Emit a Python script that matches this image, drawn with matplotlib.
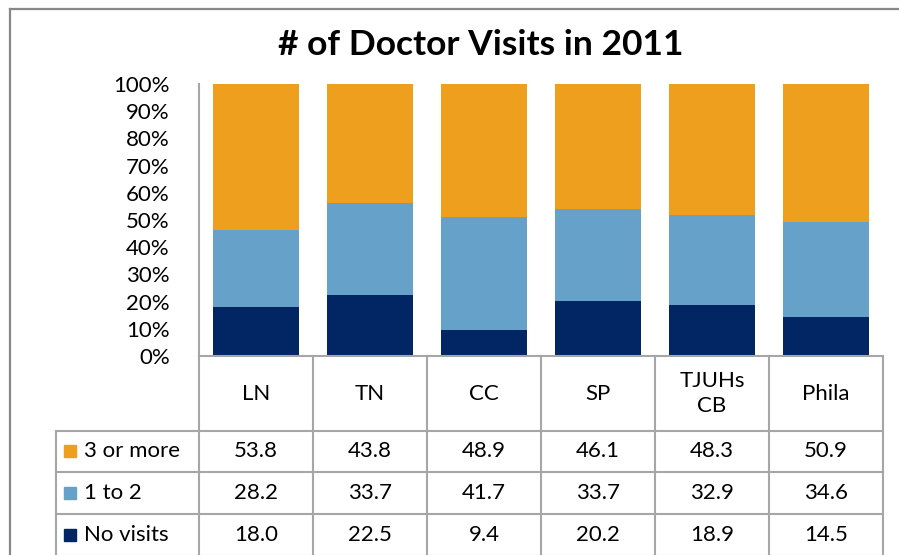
import numpy as np
import matplotlib.pyplot as plt
from matplotlib.lines import Line2D

plt.rcParams['font.family'] = ['Lato', 'DejaVu Sans']

regions = ["LN", "TN", "CC", "SP", "TJUHs\nCB", "Phila"]
series = ["3 or more", "1 to 2", "No visits"]
three_or_more = [53.8, 43.8, 48.9, 46.1, 48.3, 50.9]
one_to_two = [28.2, 33.7, 41.7, 33.7, 32.9, 34.6]
no_visits = [18.0, 22.5, 9.4, 20.2, 18.9, 14.5]
colors = ["#EE9F1E", "#65A1C9", "#012663"]

grid_c = "#a6a6a6"

fig = plt.figure(figsize=(8.99, 5.55), dpi=100)
ax = fig.add_axes([199 / 899, 199 / 555, 684 / 899, 272 / 555])

x = np.arange(len(regions))
nv = np.array(no_visits)
ot = np.array(one_to_two)
tm = np.array(three_or_more)
ax.bar(x, nv, width=0.75, color=colors[2], zorder=2)
ax.bar(x, ot, width=0.75, bottom=nv, color=colors[1], zorder=2)
ax.bar(x, tm, width=0.75, bottom=nv + ot, color=colors[0], zorder=2)

ax.set_xlim(-0.5, len(regions) - 0.5)
ax.set_ylim(0, 100)
ax.set_yticks(np.arange(0, 101, 10))
ax.set_yticklabels([f"{v}%" for v in range(0, 101, 10)], fontsize=16)
ax.tick_params(axis='y', length=0, pad=21)
ax.set_xticks([])
for s in ["top", "right"]:
    ax.spines[s].set_visible(False)
ax.spines["left"].set_color(grid_c)
ax.spines["bottom"].set_color(grid_c)
ax.spines["left"].set_linewidth(1.5)
ax.spines["bottom"].set_linewidth(1.5)

# data table below the bars (y in percent units of the axis)
row_edges = [0, -27.6, -42.6, -58.1, -73.5]
label_left = -1.754
right = len(regions) - 0.5
kw = dict(color=grid_c, lw=1.5, clip_on=False, zorder=3)
for b in np.arange(len(regions) + 1) - 0.5:
    ax.plot([b, b], [row_edges[0], row_edges[-1]], **kw)
ax.plot([label_left, label_left], [row_edges[1], row_edges[-1]], **kw)
for e in row_edges[1:]:
    ax.plot([label_left, right], [e, e], **kw)

hdr_y = (row_edges[0] + row_edges[1]) / 2
for i, r in enumerate(regions):
    ax.text(i, hdr_y, r, ha='center', va='center', fontsize=16,
            linespacing=1.3, clip_on=False)

table_rows = [three_or_more, one_to_two, no_visits]
for j, (name, vals) in enumerate(zip(series, table_rows)):
    yc = (row_edges[j + 1] + row_edges[j + 2]) / 2
    ax.plot(label_left + 0.125, yc, marker='s', ms=9, color=colors[j],
            clip_on=False, zorder=3)
    ax.text(label_left + 0.245, yc, name, ha='left', va='center',
            fontsize=16, clip_on=False)
    for i, v in enumerate(vals):
        ax.text(i, yc, f"{v:.1f}", ha='center', va='center',
                fontsize=16, clip_on=False)

fig.text(481 / 899, 1 - 45 / 555, "# of Doctor Visits in 2011",
         ha='center', va='center', fontsize=25.5, fontweight='bold')

# chart frame (only left and top edges are inside the picture)
fx, fy = 9.5 / 899, 1 - 8.5 / 555
fig.lines.append(Line2D([fx, fx], [0, fy], transform=fig.transFigure,
                        color="#888888", lw=1.6))
fig.lines.append(Line2D([fx, 1], [fy, fy], transform=fig.transFigure,
                        color="#888888", lw=1.6))

fig.savefig("out.png", dpi=100)
